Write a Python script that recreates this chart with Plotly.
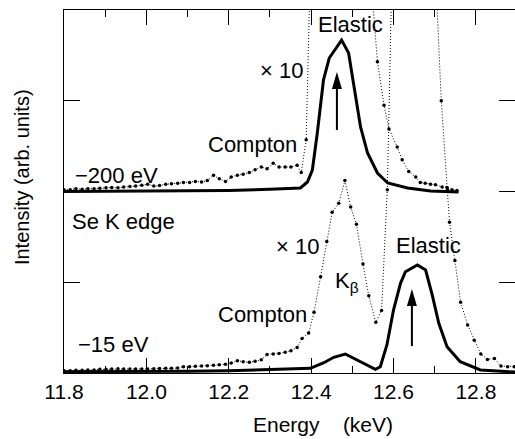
import plotly.graph_objects as go

# ---------------- data (energy in keV, intensity in arb. units) ----------------
# upper spectrum (-200 eV), solid
e_hi = [11.800, 11.900, 12.000, 12.100, 12.200, 12.300, 12.374, 12.391, 12.403, 12.415,
        12.430, 12.444, 12.474, 12.491, 12.503, 12.520, 12.537, 12.561, 12.586, 12.634,
        12.690, 12.758]
i_hi = [2.000, 2.002, 2.005, 2.008, 2.012, 2.025, 2.039, 2.105, 2.237, 2.645,
        3.229, 3.471, 3.669, 3.526, 3.196, 2.711, 2.424, 2.204, 2.094, 2.039,
        2.006, 1.994]

# upper spectrum (-200 eV), x10 dotted
e_hi10 = [11.800, 11.815, 11.829, 11.844, 11.858, 11.873, 11.887, 11.902, 11.916, 11.931,
          11.945, 11.960, 11.974, 11.989, 12.003, 12.018, 12.032, 12.047, 12.061, 12.076,
          12.090, 12.105, 12.119, 12.134, 12.148, 12.163, 12.177, 12.192, 12.206, 12.221,
          12.235, 12.250, 12.264, 12.279, 12.293, 12.308, 12.322, 12.337, 12.351, 12.366,
          12.376, 12.388, 12.402, 12.417, 12.432, 12.446, 12.461, 12.475, 12.490, 12.504,
          12.519, 12.532, 12.546, 12.561, 12.577, 12.589, 12.609, 12.621, 12.637, 12.654,
          12.665, 12.677, 12.690, 12.702, 12.718, 12.730, 12.742, 12.754]
i_hi10 = [2.020, 2.020, 2.030, 2.025, 2.030, 2.030, 2.035, 2.040, 2.045, 2.040,
          2.050, 2.055, 2.060, 2.070, 2.080, 2.060, 2.065, 2.080, 2.085, 2.090,
          2.100, 2.100, 2.110, 2.105, 2.120, 2.180, 2.140, 2.110, 2.160, 2.180,
          2.190, 2.210, 2.240, 2.270, 2.250, 2.310, 2.270, 2.270, 2.270, 2.290,
          2.210, 2.570, 4.500, 11.00, 15.00, 17.50, 18.50, 19.00, 18.00, 15.00,
          10.00, 7.000, 4.300, 3.430, 2.950, 2.690, 2.490, 2.350, 2.220, 2.160,
          2.100, 2.090, 2.080, 2.075, 2.050, 2.045, 2.020, 2.010]

# lower spectrum (-15 eV), solid
e_lo = [11.800, 11.900, 12.000, 12.100, 12.200, 12.280, 12.398, 12.431, 12.455, 12.483,
        12.508, 12.536, 12.556, 12.568, 12.584, 12.600, 12.617, 12.629, 12.658, 12.678,
        12.694, 12.710, 12.730, 12.762, 12.811, 12.896]
i_lo = [0.015, 0.015, 0.015, 0.020, 0.025, 0.033, 0.052, 0.113, 0.173, 0.209,
        0.151, 0.088, 0.041, 0.069, 0.309, 0.694, 0.988, 1.116, 1.190, 1.135,
        0.860, 0.548, 0.290, 0.125, 0.033, 0.010]

# lower spectrum (-15 eV), x10 dotted
e_lo10 = [11.800, 11.815, 11.829, 11.844, 11.858, 11.873, 11.887, 11.902, 11.916, 11.931,
          11.945, 11.960, 11.974, 11.989, 12.003, 12.018, 12.032, 12.047, 12.061, 12.076,
          12.090, 12.105, 12.119, 12.134, 12.148, 12.163, 12.177, 12.192, 12.206, 12.221,
          12.235, 12.250, 12.264, 12.279, 12.293, 12.308, 12.322, 12.337, 12.351, 12.366,
          12.378, 12.394, 12.407, 12.423, 12.438, 12.451, 12.467, 12.482, 12.496, 12.510,
          12.526, 12.540, 12.557, 12.571, 12.585, 12.600, 12.615, 12.630, 12.645, 12.660,
          12.675, 12.690, 12.700, 12.716, 12.731, 12.736, 12.749, 12.763, 12.780, 12.796,
          12.812, 12.828, 12.845, 12.861, 12.877, 12.893]
i_lo10 = [0.025, 0.025, 0.030, 0.030, 0.032, 0.033, 0.040, 0.042, 0.045, 0.047,
          0.045, 0.044, 0.045, 0.044, 0.044, 0.048, 0.050, 0.052, 0.052, 0.055,
          0.070, 0.068, 0.075, 0.077, 0.080, 0.085, 0.090, 0.096, 0.110, 0.135,
          0.125, 0.118, 0.130, 0.145, 0.205, 0.210, 0.216, 0.230, 0.245, 0.280,
          0.380, 0.440, 0.670, 1.060, 1.450, 1.770, 1.870, 2.120, 1.830, 1.640,
          1.200, 0.850, 0.560, 0.690, 2.020, 5.200, 10.00, 14.00, 17.00, 18.00,
          16.00, 11.00, 4.600, 3.000, 2.020, 1.660, 1.240, 0.780, 0.530, 0.360,
          0.210, 0.150, 0.160, 0.077, 0.070, 0.070]

# arrows marking the elastic peaks
arrow_e = [12.4626, 12.6447]
arrow_base = [2.678, 0.2975]
arrow_tip = [3.317, 0.926]

x_ticks = [11.8, 12.0, 12.2, 12.4, 12.6, 12.8]
x_ticklabels = ["11.8", "12.0", "12.2", "12.4", "12.6", "12.8"]
y_ticks = [1, 2, 3]

# text labels: (text, energy, intensity)
labels = [
    ("Elastic", 12.495, 3.835),
    ("\u00d7 10", 12.328, 3.328),
    ("Compton", 12.258, 2.523),
    ("\u2212200 eV", 11.928, 2.18),
    ("Se K edge", 11.944, 1.669),
    ("\u221215 eV", 11.919, 0.309),
    ("Compton", 12.283, 0.65),
    ("\u00d7 10", 12.368, 1.394),
    ("K<sub>\u03b2</sub>", 12.488, 1.003),
    ("Elastic", 12.686, 1.41),
]

FONT = "Liberation Sans, Arial, Helvetica, sans-serif"

fig = go.Figure()
dotted = dict(color="black", width=1, dash="1px,2px")
for ex, iy in [(e_hi10, i_hi10), (e_lo10, i_lo10)]:
    fig.add_trace(go.Scatter(x=ex, y=iy, mode="lines+markers", line=dotted,
                             marker=dict(size=3.5, color="black"), hoverinfo="skip"))
for ex, iy in [(e_hi, i_hi), (e_lo, i_lo)]:
    fig.add_trace(go.Scatter(x=ex, y=iy, mode="lines",
                             line=dict(color="black", width=3), hoverinfo="skip"))
# invisible trace so that the right-hand tick axis is drawn
fig.add_trace(go.Scatter(x=[e_lo[0]], y=[i_lo[0]], yaxis="y2", mode="markers",
                         marker=dict(opacity=0), hoverinfo="skip"))

shapes = []
for ae, ab, at in zip(arrow_e, arrow_base, arrow_tip):
    shapes.append(dict(type="line", xref="x", yref="y", x0=ae, x1=ae, y0=ab, y1=at - 0.1,
                       line=dict(color="black", width=2)))
    shapes.append(dict(type="path", xref="x", yref="y", xsizemode="pixel", ysizemode="pixel",
                       xanchor=ae, yanchor=at, path="M0,0 L-5,-17 L5,-17 Z",
                       fillcolor="black", line=dict(width=0)))

annotations = []
for t, ex, iy in labels:
    annotations.append(dict(text=t, x=ex, y=iy, xref="x", yref="y", showarrow=False,
                            xanchor="center", yanchor="middle",
                            font=dict(family=FONT, size=22, color="black")))
annotations.append(dict(text="Energy\u00a0\u00a0\u00a0\u00a0(keV)", x=12.428, y=-0.143, xref="x", yref="paper",
                        showarrow=False, xanchor="center", yanchor="middle",
                        font=dict(family=FONT, size=21, color="black")))
annotations.append(dict(text="Intensity (arb. units)", x=-0.0918, y=0.5386, xref="paper", yref="paper",
                        showarrow=False, xanchor="center", yanchor="middle", textangle=-90,
                        font=dict(family=FONT, size=20, color="black")))

yax_common = dict(range=[0, 4], tickvals=y_ticks, showticklabels=False,
                  ticks="inside", ticklen=16, tickwidth=1, tickcolor="black",
                  showgrid=False, zeroline=False)

fig.update_layout(
    width=515, height=439,
    margin=dict(l=64, r=0, t=10, b=66),
    paper_bgcolor="white", plot_bgcolor="white",
    showlegend=False,
    font=dict(family=FONT, size=20, color="black"),
    shapes=shapes, annotations=annotations,
    xaxis=dict(range=[11.8, 12.895], tickvals=x_ticks, ticktext=x_ticklabels,
               ticks="inside", ticklen=15, tickwidth=1, tickcolor="black",
               minor=dict(dtick=0.1, tick0=11.8, ticks="inside", ticklen=7, tickwidth=1, tickcolor="black"),
               showline=True, linecolor="black", linewidth=1, mirror="ticks",
               showgrid=False, zeroline=False, tickfont=dict(family=FONT, size=21, color="black")),
    yaxis=dict(**yax_common, showline=True, linecolor="black", linewidth=1, mirror=False),
    yaxis2=dict(**yax_common, overlaying="y", side="right", showline=False),
)

fig.write_html("out.html", config={"displayModeBar": False},
               post_script="document.body.style.margin='0';document.body.style.overflow='hidden';")
